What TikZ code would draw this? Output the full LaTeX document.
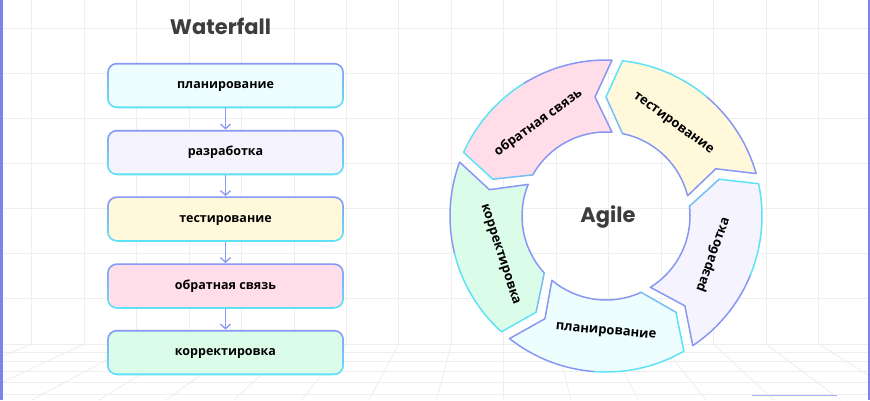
\documentclass[tikz,border=0pt]{standalone}
\usepackage{fontspec}
\newfontfamily\cyrf{Open Sans}
\newfontfamily\titlef{Poppins}
\usetikzlibrary{arrows.meta}
\definecolor{gridc}{HTML}{EEEEEE}
\definecolor{edgec}{HTML}{7B83EB}
\definecolor{edgelt}{HTML}{AEB3F6}
\definecolor{bluec}{HTML}{8798F4}
\definecolor{cyanc}{HTML}{5CE4F6}
\definecolor{midc}{HTML}{72BEF5}
\definecolor{arrc}{HTML}{8A99F2}
\definecolor{fcyan}{HTML}{EEFEFF}
\definecolor{fpurp}{HTML}{F4F3FE}
\definecolor{fyell}{HTML}{FFF8DA}
\definecolor{fpink}{HTML}{FFDDE9}
\definecolor{fgreen}{HTML}{DCFCEA}
\definecolor{titlec}{HTML}{3D3D3D}
\newcommand\segcalc[8]{%
 \pgfmathsetmacro\sRi{#2}%
 \pgfmathsetmacro\sRo{#3}%
 \pgfmathsetmacro\hoA{#1-asin(#5/#3)}%
 \pgfmathsetmacro\hiA{#1-asin(#5/#2)}%
 \pgfmathsetmacro\hpA{#1-atan(#6/#4)}%
 \pgfmathsetmacro\hpR{sqrt(#4*#4+#6*#6)}%
 \pgfmathsetmacro\toA{#1-72-asin(#7/#3)}%
 \pgfmathsetmacro\tiA{#1-72-asin(#7/#2)}%
 \pgfmathsetmacro\tnA{#1-72+atan(#8/#4)}%
 \pgfmathsetmacro\tnR{sqrt(#4*#4+#8*#8)}%
 \pgfmathsetmacro\moA{(\hoA+\toA)/2}%
 \pgfmathsetmacro\miA{(\hiA+\tiA)/2}%
}
\newcommand\segshape{(\hiA:\sRi pt) -- (\hpA:\hpR pt) -- (\hoA:\sRo pt) arc[start angle=\hoA, end angle=\toA, radius=\sRo pt] -- (\tnA:\tnR pt) -- (\tiA:\sRi pt) arc[start angle=\tiA, end angle=\hiA, radius=\sRi pt] -- cycle}
\newcommand\agileseg[2]{%
 \segcalc{#1}{84}{156}{119}{16.5}{0}{6}{11}%
 \fill[#2] \segshape;%
 \draw[segline, draw=bluec] (\moA:\sRo pt) arc[start angle=\moA, end angle=\toA, radius=\sRo pt] -- (\tnA:\tnR pt) -- (\tiA:\sRi pt) arc[start angle=\tiA, end angle=\hiA, radius=\sRi pt];%
 \draw[segline, draw=midc] (\hiA:\sRi pt) -- (\hpA:\hpR pt);%
 \draw[segline, draw=cyanc] (\hpA:\hpR pt) -- (\hoA:\sRo pt) arc[start angle=\hoA, end angle=\moA, radius=\sRo pt];%
}
\begin{document}
\begin{tikzpicture}[x=1pt,y=1pt,
  gridline/.style={draw=gridc, line width=0.8pt},
  segline/.style={line width=1.5pt, line join=round, line cap=round},
  wfbox/.style={minimum width=237pt, minimum height=45.5pt, rounded corners=10pt,
    top color=bluec, bottom color=cyanc, inner sep=0pt, text height=6.5pt, text depth=0pt,
    font=\cyrf\bfseries\fontsize{12.5}{14}\selectfont,
    path picture={\fill[#1, rounded corners=8.2pt] ([shift={(1.8pt,1.8pt)}]path picture bounding box.south west) rectangle ([shift={(-1.8pt,-1.8pt)}]path picture bounding box.north east);}},
  ringtxt/.style={inner sep=0pt, text height=6.5pt, text depth=0pt, font=\cyrf\bfseries\fontsize{13}{15}\selectfont},
  titletxt/.style={font=\titlef\bfseries\fontsize{21}{24}\selectfont, text=titlec, inner sep=0pt, anchor=base},
  arr/.style={draw=arrc, line width=1.3pt, -{Straight Barb[length=4.5pt,width=10pt]}}]
\useasboundingbox (0,0) rectangle (870,400);
\fill[white] (0,0) rectangle (870,400);
% background grid
\begin{scope}
\clip (0,0) rectangle (870,400);
\foreach \k in {0,...,15} \draw[gridline] ({31.7+52.45*\k},400) -- ({31.7+52.45*\k},56);
\foreach \yy in {372,327,282,237,192,147,102,56,47.3,38.3,28.3,18,6} \draw[gridline] (0,\yy) -- (870,\yy);
\foreach \k in {-2,...,17} \draw[gridline] ({31.7+52.45*\k},56) -- ({31.7+52.45*\k+(31.7+52.45*\k-503.75)*0.2857},0);
\end{scope}
% waterfall
\node[titletxt] (wt) at (220.5,366) {Waterfall};
\node[wfbox=fcyan] (w1) at (225.5,314.5) {планирование};
\node[wfbox=fpurp] (w2) at (225.5,247.5) {разработка};
\node[wfbox=fyell] (w3) at (225.5,181) {тестирование};
\node[wfbox=fpink] (w4) at (225.5,114) {обратная связь};
\node[wfbox=fgreen] (w5) at (225.5,47.5) {корректировка};
\draw[arr] (w1.south) -- (w2.north);
\draw[arr] (w2.south) -- (w3.north);
\draw[arr] (w3.south) -- (w4.north);
\draw[arr] (w4.south) -- (w5.north);
% agile ring
\begin{scope}[shift={(606,184)}]
\agileseg{90}{fyell}
\agileseg{162}{fpink}
\agileseg{234}{fgreen}
\agileseg{306}{fcyan}
\agileseg{18}{fpurp}
\node[ringtxt, rotate=-36] (a1) at (54:115) {тестирование};
\node[ringtxt, rotate=36] (a2) at (126:115) {обратная связь};
\node[ringtxt, rotate=-72] (a3) at (200:112) {корректировка};
\node[ringtxt, rotate=-5] (a4) at (270:115) {планирование};
\node[ringtxt, rotate=70] (a5) at (340:114) {разработка};
\node[titletxt] (ag) at (2,-6.3) {Agile};
\end{scope}
% frame lines
\fill[edgec] (0,0) rectangle (2.5,400);
\fill[edgec] (867.5,0) rectangle (870,400);
\draw[edgelt, line width=1.5pt] (752,4.3) -- (837,4.3);
\end{tikzpicture}
\end{document}
